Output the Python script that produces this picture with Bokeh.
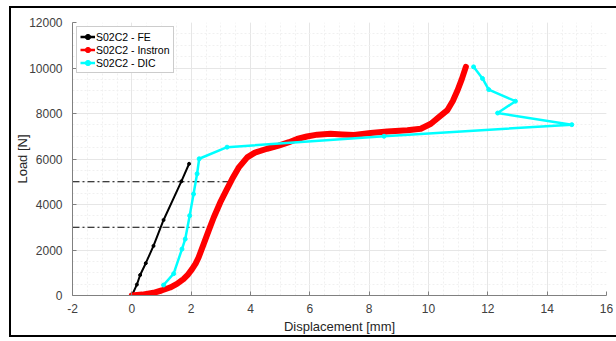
from bokeh.plotting import figure
from bokeh.models import Range1d, Legend, LegendItem, FixedTicker
from bokeh.embed import file_html
from bokeh.resources import INLINE

# FE series
fe_x = [0.0, 0.17, 0.28, 0.47, 0.73, 1.07, 1.67, 1.93]
fe_y = [0, 480, 900, 1420, 2180, 3320, 5020, 5790]

# Instron series
ins_x = [0.0, 0.35, 0.73, 1.0, 1.29, 1.52, 1.74, 1.9, 2.03, 2.15, 2.25, 2.42, 2.59, 2.76,
         2.98, 3.21, 3.38, 3.6, 3.89, 4.15, 4.56, 4.95, 5.3, 5.57, 5.9, 6.25, 6.7, 7.1,
         7.49, 8.05, 8.61, 9.29, 9.74, 10.08, 10.36, 10.64, 10.82, 10.98, 11.12, 11.26]
ins_y = [0, 40, 120, 220, 350, 510, 720, 930, 1160, 1400, 1670, 2260, 2850, 3430,
         4090, 4690, 5120, 5620, 6070, 6280, 6450, 6590, 6740, 6880, 6990, 7070, 7110, 7080,
         7060, 7140, 7210, 7260, 7330, 7550, 7850, 8150, 8550, 9020, 9500, 10050]

# DIC series
dic_x = [1.07, 1.41, 1.69, 1.8, 1.95, 2.08, 2.2, 2.27, 3.21, 8.5, 14.83, 12.33, 12.93, 12.03, 11.82, 11.52]
dic_y = [460, 960, 2040, 2480, 3510, 4460, 5350, 6010, 6520, 7000, 7510, 8020, 8540, 9050, 9540, 10050]

# reference levels (dash-dot)
ref_y = [5000, 3000]
ref_x_end = [3.32, 2.7]

x_ticks = [-2, 0, 2, 4, 6, 8, 10, 12, 14, 16]
x_tick_labels = ["-2", "0", "2", "4", "6", "8", "10", "12", "14", "16"]
y_ticks = [0, 2000, 4000, 6000, 8000, 10000, 12000]

p = figure(width=611, height=331, output_backend="svg", toolbar_location=None,
           x_range=Range1d(-2, 16), y_range=Range1d(0, 12000),
           min_border_left=61, min_border_right=16, min_border_top=14, min_border_bottom=44)
p.styles = {"position": "absolute", "left": "9px", "top": "6px",
            "border-left": "2px solid black", "border-top": "2px solid black",
            "border-bottom": "2px solid black"}
p.outline_line_color = None

for ax in (p.xaxis[0], p.yaxis[0]):
    ax.axis_line_color = "#808080"
    ax.major_tick_line_color = "#808080"
    ax.major_tick_in = 4
    ax.major_tick_out = 0
    ax.minor_tick_line_color = None
    ax.major_label_text_font = "Liberation Sans"
    ax.major_label_text_font_size = "12px"
    ax.major_label_text_color = "#404040"
    ax.axis_label_text_font = "Liberation Sans"
    ax.axis_label_text_font_size = "13px"
    ax.axis_label_text_font_style = "normal"
    ax.axis_label_text_color = "#262626"

p.xaxis.ticker = FixedTicker(ticks=x_ticks, minor_ticks=[x / 2 for x in range(-4, 33)])
p.xaxis.major_label_overrides = {t: s for t, s in zip(x_ticks, x_tick_labels)}
p.yaxis.ticker = FixedTicker(ticks=y_ticks, minor_ticks=list(range(0, 12001, 500)))
p.xaxis.axis_label = "Displacement [mm]"
p.yaxis.axis_label = "Load [N]"
p.xaxis.major_label_standoff = 4
p.yaxis.major_label_standoff = 6
p.xaxis.axis_label_standoff = 3
p.yaxis.axis_label_standoff = -4

p.grid.grid_line_color = "#e6e6e6"
p.grid.grid_line_width = 1
p.grid.minor_grid_line_color = "#f0f0f0"
p.grid.minor_grid_line_dash = "2 2"

# dash-dot reference lines
for yv, xe in zip(ref_y, ref_x_end):
    p.line([-2, xe], [yv, yv], line_color="black", line_width=1, line_dash="7 3 2 3")

p.line(fe_x, fe_y, line_color="black", line_width=2)
p.scatter(fe_x, fe_y, size=3, color="black")
p.line(ins_x, ins_y, line_color="red", line_width=6, line_join="round", line_cap="round")
p.line(dic_x, dic_y, line_color="cyan", line_width=2.5)
p.scatter(dic_x, dic_y, size=4, color="cyan")

# legend-only glyphs (thin line with dot, as in the reference legend)
nan = float("nan")
lg = []
for c in ["black", "red", "cyan"]:
    l = p.line([nan], [nan], line_color=c, line_width=2.5)
    m = p.scatter([nan], [nan], size=5, color=c)
    lg.append([l, m])

legend = Legend(items=[
    LegendItem(label="S02C2 - FE", renderers=lg[0]),
    LegendItem(label="S02C2 - Instron", renderers=lg[1]),
    LegendItem(label="S02C2 - DIC", renderers=lg[2]),
], location="top_left")
legend.label_text_font = "Liberation Sans"
legend.label_text_font_size = "10.5px"
legend.label_text_color = "#000000"
legend.glyph_width = 15
legend.glyph_height = 13
legend.label_height = 13
legend.spacing = 0
legend.padding = 3
legend.margin = 4
legend.label_standoff = 1
legend.border_line_color = "#999999"
legend.background_fill_alpha = 1
p.add_layout(legend)

open("out.html", "w").write(file_html(p, INLINE))
